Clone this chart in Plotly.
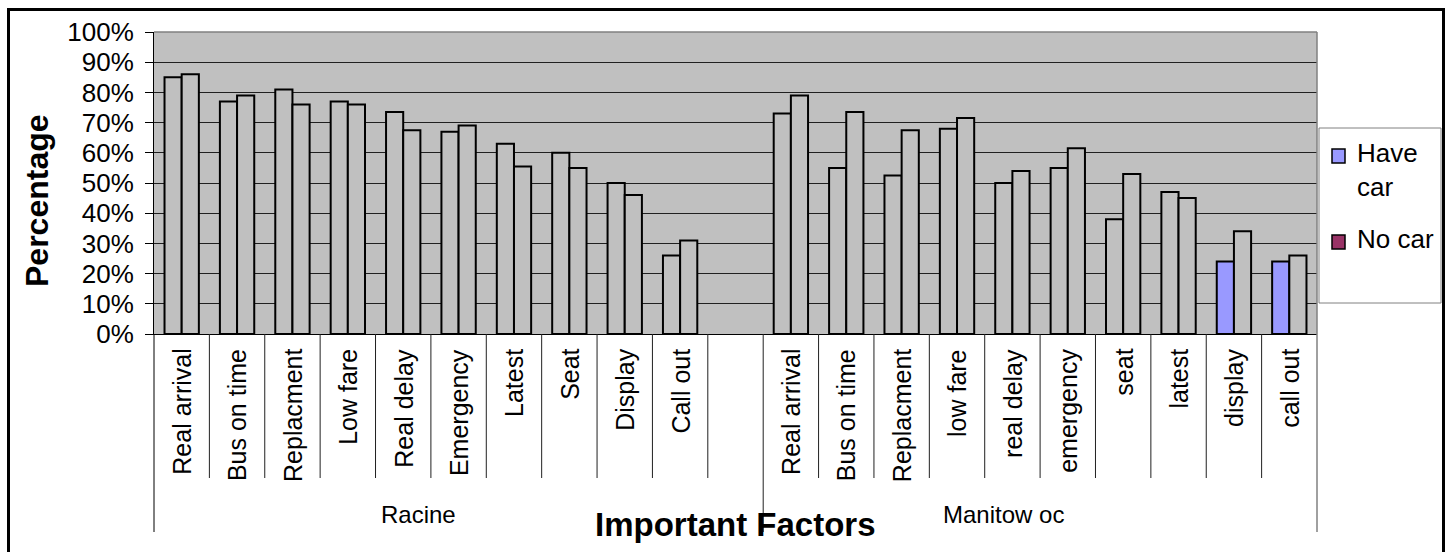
import plotly.graph_objects as go

# ---- data -------------------------------------------------------------
groups = ["Racine", "Manitow oc"]
racine_factors = ["Real arrival", "Bus on time", "Replacment", "Low fare", "Real delay",
                  "Emergency", "Latest", "Seat", "Display", "Call out"]
manitowoc_factors = ["Real arrival", "Bus on time", "Replacment", "low fare", "real delay",
                     "emergency", "seat", "latest", "display", "call out"]

racine_have_car = [85, 77, 81, 77, 73.5, 67, 63, 60, 50, 26]
racine_no_car = [86, 79, 76, 76, 67.5, 69, 55.5, 55, 46, 31]
manitowoc_have_car = [73, 55, 52.5, 68, 50, 55, 38, 47, 24, 24]
manitowoc_no_car = [79, 73.5, 67.5, 71.5, 54, 61.5, 53, 45, 34, 26]

y_ticks = [0, 10, 20, 30, 40, 50, 60, 70, 80, 90, 100]

# ---- layout constants ------------------------------------------------
W, H = 1452, 552
L, R, T, B = 154, 135, 32, 218
PW, PH = W - L - R, H - T - B
FONT = "Liberation Sans, Arial, sans-serif"
PLOT_BG = "#C0C0C0"
HAVE_COLOR = "#9999FF"
NO_COLOR = "#993366"


def px_x(p):
    return (p - L) / PW


def px_y(p):
    return (T + PH - p) / PH


# category slots: Racine factors, one empty slot, Manitowoc factors
n_r = len(racine_factors)
n_m = len(manitowoc_factors)
x_r = list(range(n_r))
x_m = list(range(n_r + 1, n_r + 1 + n_m))
x_all = x_r + x_m
labels_all = racine_factors + manitowoc_factors
have_all = [v / 100 for v in racine_have_car + manitowoc_have_car]
no_all = [v / 100 for v in racine_no_car + manitowoc_no_car]
n_slots = n_r + 1 + n_m

# fill colours: only the last two Manitowoc "Have car" bars are shaded
highlighted = {"display", "call out"}
have_fill = [PLOT_BG] * n_r + [HAVE_COLOR if f in highlighted else PLOT_BG for f in manitowoc_factors]

fig = go.Figure()
fig.add_trace(go.Bar(name="Have car", x=x_all, y=have_all,
                     marker=dict(color=have_fill, line=dict(color="black", width=2)),
                     showlegend=False))
fig.add_trace(go.Bar(name="No car", x=x_all, y=no_all,
                     marker=dict(color=PLOT_BG, line=dict(color="black", width=2)),
                     showlegend=False))

shapes = []
annotations = []

# category dividers below the axis
for k in range(1, n_slots):
    xd = k - 0.5
    is_group_edge = (k == n_r + 1)
    shapes.append(dict(type="line", xref="x", yref="paper", x0=xd, x1=xd,
                       y0=0, y1=px_y(532) if is_group_edge else px_y(478),
                       line=dict(color="#202020", width=1)))
# outer group edges
shapes.append(dict(type="line", xref="paper", yref="paper", x0=0, x1=0, y0=0, y1=px_y(532),
                   line=dict(color="black", width=1)))
shapes.append(dict(type="line", xref="paper", yref="paper", x0=1, x1=1, y0=px_y(532), y1=1,
                   line=dict(color="#808080", width=1.5)))
# top edge of plot area
shapes.append(dict(type="line", xref="paper", yref="paper", x0=0, x1=1, y0=1, y1=1,
                   line=dict(color="#808080", width=1.5)))

# rotated factor labels
for xi, lab in zip(x_all, labels_all):
    annotations.append(dict(x=xi, y=px_y(347), xref="x", yref="paper", text=lab,
                            textangle=-90, showarrow=False, xanchor="center", yanchor="top",
                            font=dict(family=FONT, size=25, color="black")))

# group labels
annotations.append(dict(x=px_x(418), y=px_y(514), xref="paper", yref="paper", text=groups[0],
                        showarrow=False, xanchor="center", yanchor="middle",
                        font=dict(family=FONT, size=24, color="black")))
annotations.append(dict(x=px_x(1003), y=px_y(514), xref="paper", yref="paper", text=groups[1],
                        showarrow=False, xanchor="center", yanchor="middle",
                        font=dict(family=FONT, size=24, color="black")))

# axis titles
annotations.append(dict(x=px_x(735), y=px_y(524), xref="paper", yref="paper",
                        text="<b>Important Factors</b>", showarrow=False,
                        xanchor="center", yanchor="middle",
                        font=dict(family=FONT, size=33, color="black")))
annotations.append(dict(x=px_x(37), y=px_y(201), xref="paper", yref="paper",
                        text="<b>Percentage</b>", textangle=-90, showarrow=False,
                        xanchor="center", yanchor="middle",
                        font=dict(family=FONT, size=32, color="black")))

# legend box
shapes.append(dict(type="rect", xref="paper", yref="paper",
                   x0=px_x(1319), x1=px_x(1441), y0=px_y(303), y1=px_y(128),
                   line=dict(color="#808080", width=1), fillcolor="white"))
legend_items = [("Have<br>car", HAVE_COLOR, 149, 136), ("No car", NO_COLOR, 235, 222)]
for text, col, sq_top, txt_y in legend_items:
    shapes.append(dict(type="rect", xref="paper", yref="paper",
                       x0=px_x(1332), x1=px_x(1345), y0=px_y(sq_top + 14), y1=px_y(sq_top),
                       line=dict(color="black", width=1.5), fillcolor=col))
    annotations.append(dict(x=px_x(1355), y=px_y(txt_y), xref="paper", yref="paper",
                            text=text, showarrow=False, xanchor="left", yanchor="top",
                            align="left",
                            font=dict(family=FONT, size=26, color="black")))

# outer chart frame
shapes.append(dict(type="rect", xref="paper", yref="paper",
                   x0=px_x(8.5), x1=px_x(1443.5), y0=px_y(565), y1=px_y(9.5),
                   line=dict(color="black", width=3), fillcolor="rgba(0,0,0,0)"))

fig.update_layout(
    width=W, height=H,
    margin=dict(l=L, r=R, t=T, b=B, pad=0),
    paper_bgcolor="white",
    plot_bgcolor=PLOT_BG,
    barmode="group",
    bargap=0.38,
    bargroupgap=0,
    showlegend=False,
    font=dict(family=FONT, size=24, color="black"),
    xaxis=dict(range=[-0.5, n_slots - 0.5], showticklabels=False, ticks="",
               showgrid=False, zeroline=False, showline=True, linecolor="black", linewidth=1),
    yaxis=dict(range=[0, 1], tickvals=[v / 100 for v in y_ticks],
               ticktext=[f"{v}%" for v in y_ticks],
               ticks="outside", ticklen=8, tickcolor="black", tickwidth=1,
               showline=True, linecolor="black", linewidth=1,
               showgrid=True, gridcolor="#202020", gridwidth=1, zeroline=False,
               ticklabelstandoff=6,
               tickfont=dict(family=FONT, size=26, color="black")),
    shapes=shapes,
    annotations=annotations,
)

fig.write_html("out.html")
